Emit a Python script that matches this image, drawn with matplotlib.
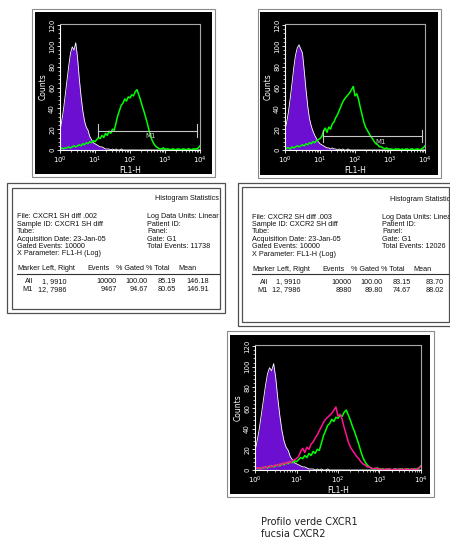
import numpy as np
import matplotlib
matplotlib.use('Agg')
import matplotlib.pyplot as plt
import matplotlib.patches as mpatches
from matplotlib.ticker import MultipleLocator, LogLocator, NullFormatter

W, H = 450, 540

# FL1-H channels (log scale, 0.05 decade bins from 10^0 to 10^4)
channels = np.logspace(0, 4, 81)

control_cxcr1 = [18, 28, 39, 53, 67, 81, 93, 99, 96, 103,
                 89, 69, 52, 38, 28, 22, 19, 13, 10, 7,
                 6, 5, 4, 3, 3, 2, 1, 1, 1, 0,
                 1, 0, 1, 0, 0, 1, 0, 0, 0, 0,
                 0, 0, 0, 0, 0, 0, 0, 0, 0, 0,
                 0, 0, 0, 0, 0, 0, 0, 0, 0, 0,
                 0, 0, 0, 0, 0, 0, 0, 0, 0, 0,
                 0, 0, 0, 0, 0, 0, 0, 0, 0, 0,
                 0]
green_cxcr1 = [1, 2, 1, 2, 2, 3, 2, 3, 4, 3,
               4, 5, 4, 6, 5, 7, 6, 8, 7, 9,
               8, 10, 12, 11, 14, 12, 16, 14, 18, 16,
               20, 19, 26, 33, 38, 43, 45, 49, 47, 51,
               50, 53, 52, 56, 58, 53, 48, 42, 37, 31,
               25, 18, 12, 8, 5, 3, 2, 1, 1, 2,
               1, 1, 1, 0, 1, 1, 0, 1, 1, 0,
               1, 1, 0, 1, 1, 0, 1, 1, 1, 2,
               4]
control_cxcr2 = [19, 27, 37, 50, 64, 79, 91, 98, 101, 97,
                 93, 76, 58, 42, 30, 23, 18, 14, 11, 8,
                 6, 5, 4, 3, 2, 2, 1, 2, 1, 1,
                 0, 1, 0, 1, 0, 0, 1, 0, 0, 0,
                 0, 0, 0, 0, 0, 0, 0, 0, 0, 0,
                 0, 0, 0, 0, 0, 0, 0, 0, 0, 0,
                 0, 0, 0, 0, 0, 0, 0, 0, 0, 0,
                 0, 0, 0, 0, 0, 0, 0, 0, 0, 0,
                 0]
green_cxcr2 = [1, 2, 2, 1, 3, 2, 3, 4, 3, 4,
               5, 4, 6, 5, 7, 6, 8, 7, 9, 10,
               11, 13, 18, 21, 17, 22, 20, 25, 27, 31,
               34, 38, 42, 46, 49, 51, 53, 55, 58, 61,
               52, 54, 49, 41, 34, 27, 22, 19, 16, 13,
               11, 8, 6, 5, 3, 3, 2, 1, 2, 1,
               1, 1, 0, 1, 1, 1, 0, 1, 0, 1,
               1, 0, 1, 1, 0, 1, 1, 0, 1, 2,
               4]

y_ticks = [0, 20, 40, 60, 80, 100, 120]
x_ticks = [1, 10, 100, 1000, 10000]
x_tick_labels = [r'$10^0$', r'$10^1$', r'$10^2$', r'$10^3$', r'$10^4$']
m1_range = [12, 7986]

info_left_1 = ['File: CXCR1 SH diff .002', 'Sample ID: CXCR1 SH diff', 'Tube:',
               'Acquisition Date: 23-Jan-05', 'Gated Events: 10000',
               'X Parameter: FL1-H (Log)']
info_right_1 = ['Log Data Units: Linear Values', 'Patient ID:', 'Panel:',
                'Gate: G1', 'Total Events: 11738']
info_left_2 = ['File: CXCR2 SH diff .003', 'Sample ID: CXCR2 SH diff', 'Tube:',
               'Acquisition Date: 23-Jan-05', 'Gated Events: 10000',
               'X Parameter: FL1-H (Log)']
info_right_2 = ['Log Data Units: Linear Values', 'Patient ID:', 'Panel:',
                'Gate: G1', 'Total Events: 12026']
header = ['Marker', 'Left, Right', 'Events', '% Gated', '% Total', 'Mean']
rows_1 = [['All', '1, 9910', '10000', '100.00', '85.19', '146.18'],
          ['M1', '12, 7986', '9467', '94.67', '80.65', '146.91']]
rows_2 = [['All', '1, 9910', '10000', '100.00', '83.15', '83.70'],
          ['M1', '12, 7986', '8980', '89.80', '74.67', '88.02']]

PURPLE = '#6c0fd0'
GREEN = '#00ff00'
MAGENTA = '#ff1493'


def px_rect(x0, y0, x1, y1):
    return [x0 / W, 1 - y1 / H, (x1 - x0) / W, (y1 - y0) / H]


fig = plt.figure(figsize=(W / 100, H / 100), dpi=100)
bg = fig.add_axes([0, 0, 1, 1])
bg.set_xlim(0, W)
bg.set_ylim(H, 0)
bg.axis('off')


def frame(outer, black):
    x0, y0, x1, y1 = outer
    bg.add_patch(mpatches.Rectangle((x0, y0), x1 - x0, y1 - y0, fill=False,
                                    edgecolor='#8a8a8a', lw=0.8))
    x0, y0, x1, y1 = black
    bg.add_patch(mpatches.Rectangle((x0, y0), x1 - x0, y1 - y0,
                                    facecolor='black', edgecolor='none'))


def hist_panel(rect, control, lines, marker_y=None, label_pos=None):
    ax = fig.add_axes(px_rect(*rect))
    ax.set_facecolor('black')
    ax.set_xscale('log')
    ax.fill_between(channels, control, color=PURPLE, lw=0)
    ax.plot(channels, control, color='white', lw=0.6)
    for vals, col in lines:
        ax.plot(channels, vals, color=col, lw=1.1)
    if marker_y is not None:
        x0, x1 = m1_range
        ax.plot([x0, x1], [marker_y, marker_y], color='#c8c8c8', lw=0.8)
        ax.plot([x0, x0], [marker_y - 6, marker_y + 6], color='#c8c8c8', lw=0.8)
        ax.plot([x1, x1], [marker_y - 6, marker_y + 6], color='#c8c8c8', lw=0.8)
        ax.text(label_pos[0], label_pos[1], 'M1', color='#d0d0d0', fontsize=5,
                ha='center', va='center')
    ax.set_xlim(1, 1e4)
    ax.set_ylim(0, 121)
    ax.set_yticks(y_ticks)
    ax.set_yticklabels([str(v) for v in y_ticks], rotation=90, va='center')
    ax.yaxis.set_minor_locator(MultipleLocator(4))
    ax.set_xticks(x_ticks)
    ax.set_xticklabels(x_tick_labels)
    ax.xaxis.set_minor_locator(LogLocator(base=10, subs=range(2, 10)))
    ax.xaxis.set_minor_formatter(NullFormatter())
    ax.tick_params(colors='white', labelsize=5, length=2.5, width=0.6, pad=1)
    ax.tick_params(which='minor', colors='white', length=1.5, width=0.5)
    for s in ['left', 'bottom']:
        ax.spines[s].set_color('white')
        ax.spines[s].set_linewidth(0.8)
    for s in ['top', 'right']:
        ax.spines[s].set_color('#a8a8a8')
        ax.spines[s].set_linewidth(0.8)
    ax.set_xlabel('FL1-H', color='white', fontsize=5.5, labelpad=0)
    ax.set_ylabel('Counts', color='white', fontsize=5.5, labelpad=1)
    return ax


def stats_table(outer, inner, left, info_l, info_r, rows):
    x0, y0, x1, y1 = outer
    bg.add_patch(mpatches.Rectangle((x0, y0), x1 - x0, y1 - y0, fill=False,
                                    edgecolor='#505050', lw=0.9))
    x0, y0, x1, y1 = inner
    bg.add_patch(mpatches.Rectangle((x0, y0), x1 - x0, y1 - y0, fill=False,
                                    edgecolor='#505050', lw=0.9))
    tax = fig.add_axes(px_rect(x0, y0, x1, y1))
    tax.set_xlim(x0, x1)
    tax.set_ylim(y1, y0)
    tax.axis('off')
    top = outer[1]
    kw = dict(fontsize=5.2, family='Liberation Sans', color='#111111',
              va='center', clip_on=True)

    def put(x, y, s, **extra):
        t = tax.text(x, y, s, **kw, **extra)
        t.set_clip_box(tax.bbox)

    put(left + 138, top + 16, 'Histogram Statistics')
    for i, s in enumerate(info_l):
        put(left, top + 34 + 7.4 * i, s)
    for i, s in enumerate(info_r):
        put(left + 130, top + 34 + 7.4 * i, s)
    head_x = [0, 25, 70, 99, 129, 161]
    data_x = [16, 49, 100, 131, 159, 192]
    for hx, s in zip(head_x, header):
        put(left + hx, top + 86, s)
    tax.plot([left, x1], [top + 91, top + 91], color='#303030', lw=0.8)
    for r, row in enumerate(rows):
        for dx, s in zip(data_x, row):
            put(left + dx, top + 99 + 8 * r, s, ha='right')


# panel frames
frame((32, 9, 215, 177), (35, 12, 212, 174))
frame((258, 9, 441, 178), (260, 12, 438, 175))
frame((227, 331, 434, 497), (230, 335, 430, 494))

hist_panel((60, 24, 200, 150), control_cxcr1, [(green_cxcr1, GREEN)],
           marker_y=18.5, label_pos=(10 ** 2.6, 13))
hist_panel((285, 24, 425, 150), control_cxcr2, [(green_cxcr2, GREEN)],
           marker_y=13.4, label_pos=(10 ** 2.72, 8))
hist_panel((255, 345, 421, 470), control_cxcr1,
           [(green_cxcr1, GREEN), (green_cxcr2, MAGENTA)])

stats_table((7, 183, 225, 313), (12, 188, 220, 309), 17,
            info_left_1, info_right_1, rows_1)
stats_table((238, 183, 453, 326), (242, 187, 449, 322), 252,
            info_left_2, info_right_2, rows_2)

bg.text(261, 522, 'Profilo verde CXCR1', fontsize=7, color='#222222', va='center')
bg.text(261, 534, 'fucsia CXCR2', fontsize=7, color='#222222', va='center')

fig.savefig('out.png', dpi=100)
